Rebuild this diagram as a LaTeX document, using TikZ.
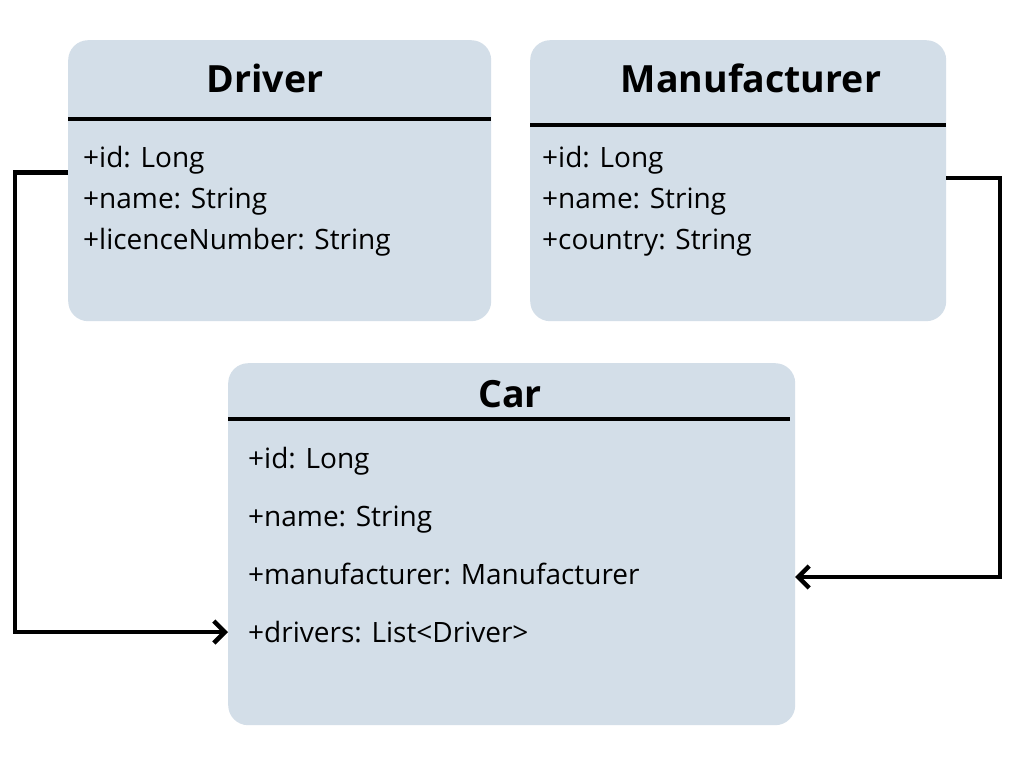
\documentclass[tikz,border=0pt]{standalone}
\usepackage{fontspec}
\setmainfont{Open Sans}
\usetikzlibrary{arrows.meta,calc}
\definecolor{boxfill}{HTML}{D3DEE8}
\begin{document}
\begin{tikzpicture}[x=1pt,y=-1pt,
  classbox/.style={fill=boxfill, rounded corners=20pt, draw=none, inner sep=0pt, anchor=north west},
  classtitle/.style={font=\fontsize{37.5}{45}\selectfont\bfseries, inner sep=0pt, anchor=base},
  attr/.style={font=\fontsize{28}{34}\selectfont, anchor=base west, inner sep=0pt},
  sepline/.style={line width=4.2pt},
  conn/.style={line width=4.5pt, miter limit=10, -{Straight Barb[length=11pt,width=22pt,line width=4.5pt]}}]
\useasboundingbox (0,0) rectangle (1024,768);
\fill[white] (0,0) rectangle (1024,768);

% Driver
\node[classbox, minimum width=423pt, minimum height=281pt] (drv) at (68,40) {};
\node[classtitle] (drvt) at (265,92) {Driver};
\draw[sepline] (68,119) -- (491,119);
\node[attr] (drv1) at (83,167) {+id: Long};
\node[attr] (drv2) at (83,208) {+name: String};
\node[attr] (drv3) at (83,249) {+licenceNumber: String};

% Manufacturer
\node[classbox, minimum width=416pt, minimum height=281pt] (man) at (530,40) {};
\node[classtitle] (mant) at (751,92) {Manufacturer};
\draw[sepline] (530,125) -- (946,125);
\node[attr] (man1) at (542,167) {+id: Long};
\node[attr] (man2) at (542,208) {+name: String};
\node[attr] (man3) at (542,249) {+country: String};

% Car
\node[classbox, minimum width=567pt, minimum height=362pt] (car) at (228,363) {};
\node[classtitle] (cart) at (510,407) {Car};
\draw[sepline] (228,419) -- (790,419);
\node[attr] (car1) at (248,468) {+id: Long};
\node[attr] (car2) at (248,526) {+name: String};
\node[attr] (car3) at (248,584) {+manufacturer: Manufacturer};
\node[attr] (car4) at (248,642) {+drivers: List<Driver>};

% connectors
\coordinate (dstart) at (68,172.5);
\coordinate (dend) at (228,632);
\coordinate (mstart) at (946,178);
\coordinate (mend) at (795,577);
\draw[conn] (dstart) -- (15,172.5) |- (dend);
\draw[conn] (mstart) -- (1000,178) |- (mend);
\end{tikzpicture}
\end{document}
